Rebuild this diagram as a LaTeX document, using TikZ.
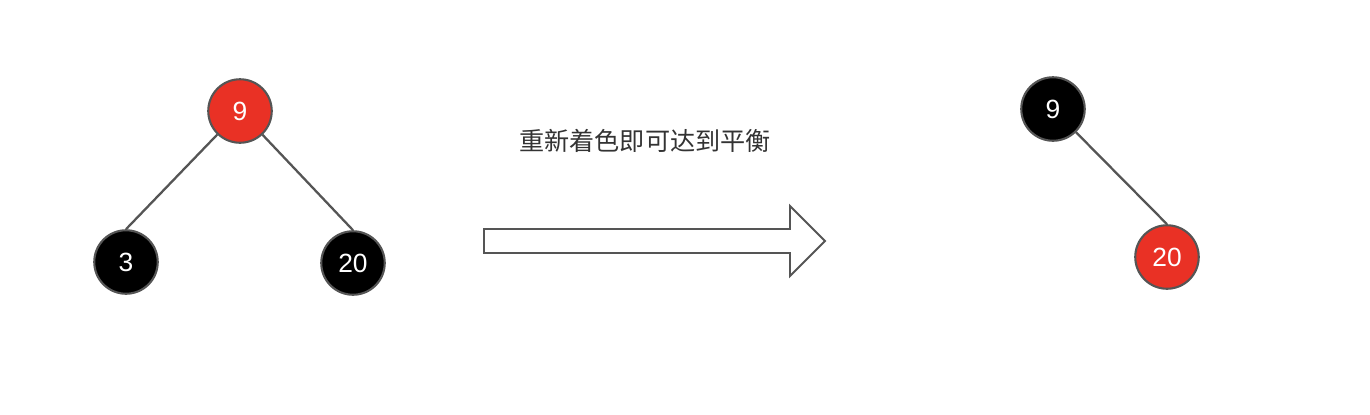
\documentclass[tikz,border=0pt]{standalone}
\usepackage{fontspec}
\setmainfont{Liberation Sans}
\newfontfamily\cjk{Noto Sans CJK SC}
\definecolor{rbred}{RGB}{233,49,37}
\definecolor{edgegray}{RGB}{85,85,85}
\definecolor{textgray}{RGB}{51,51,51}
\tikzset{
  rbnode/.style={circle, draw=edgegray, line width=1.2pt, minimum size=1.27cm, inner sep=0pt, text=white, font=\fontsize{15}{17}\selectfont},
  rednode/.style={rbnode, fill=rbred},
  blacknode/.style={rbnode, fill=black},
  treeedge/.style={draw=edgegray, line width=1.3pt}
}
\begin{document}
\begin{tikzpicture}[x=0.02cm, y=-0.02cm]
    \useasboundingbox (0,0) rectangle (1370,414);

    % tree before recolouring
    \node [rednode] (n9) at (240,111) {9};
    \node [blacknode] (n3) at (126,262) {3};
    \node [blacknode] (n20) at (353,263) {20};
    \draw [treeedge] (n9) -- (n3.north);
    \draw [treeedge] (n9) -- (n20.north);

    % arrow and caption
    \node [text=textgray, font=\cjk\fontsize{14.3}{16}\selectfont] (note) at (645,141) {重新着色即可达到平衡};
    \draw [draw=edgegray, line width=1.1pt, line join=miter]
        (484,229) -- (790,229) -- (790,206) -- (825,241) -- (790,276)
        -- (790,253) -- (484,253) -- cycle;

    % tree after recolouring
    \node [blacknode] (m9) at (1053,109) {9};
    \node [rednode] (m20) at (1167,257) {20};
    \draw [treeedge] (m9) -- (m20.north);
\end{tikzpicture}
\end{document}
